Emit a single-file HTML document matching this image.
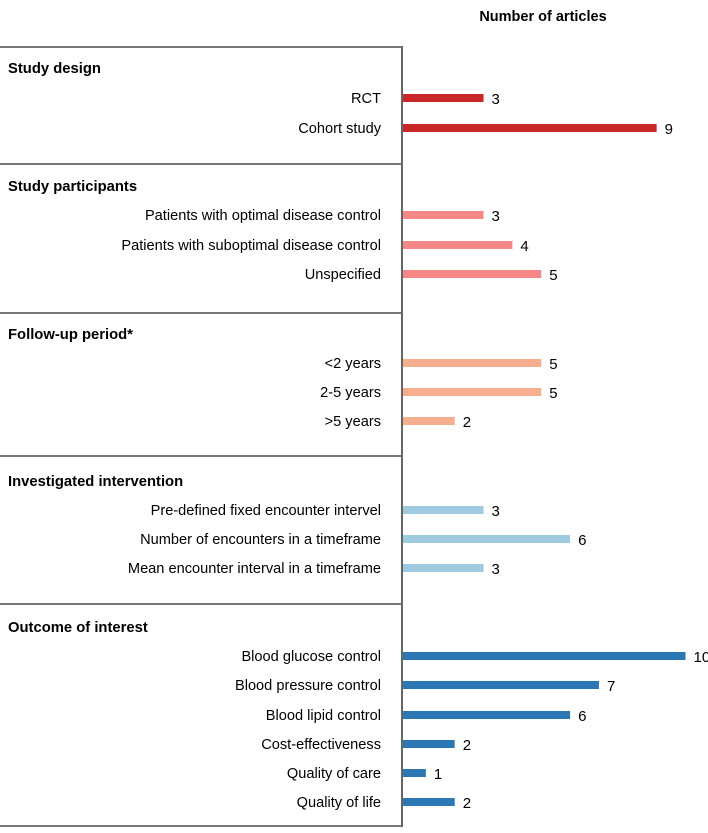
<!DOCTYPE html>
<html><head><meta charset="utf-8"><style>
body{margin:0;background:#fff;font-family:"Liberation Sans",Arial,sans-serif}
svg text{font-family:"Liberation Sans",Arial,sans-serif;fill:#000}
</style></head><body>
<svg width="708" height="828">
<g id="g"></g>
</svg>
<script>
const sections=["Study design","Study participants","Follow-up period*","Investigated intervention","Outcome of interest"];
const sectionY=[68,186,334,481,627];
const sepY=[47,164,313,456,604,826];
const categories=["RCT","Cohort study","Patients with optimal disease control","Patients with suboptimal disease control","Unspecified","<2 years","2-5 years",">5 years","Pre-defined fixed encounter intervel","Number of encounters in a timeframe","Mean encounter interval in a timeframe","Blood glucose control","Blood pressure control","Blood lipid control","Cost-effectiveness","Quality of care","Quality of life"];
const values=[3,9,3,4,5,5,5,2,3,6,3,10,7,6,2,1,2];
const groupOf=[0,0,1,1,1,2,2,2,3,3,3,4,4,4,4,4,4];
const rowY=[98,128,215,245,274,363,392,421,510,539,568,656,685,715,744,773,802];
const colors=["#c9272a","#f68787","#f5ae8e","#9fcbe0","#2b78b4"];
const NS="http://www.w3.org/2000/svg",g=document.getElementById('g');
const x=v=>397+28.85*v;
function el(t,a,txt){const e=document.createElementNS(NS,t);for(const k in a)e.setAttribute(k,a[k]);if(txt!==undefined)e.textContent=txt;g.appendChild(e);return e;}
let t=el('text',{x:543,y:21,'text-anchor':'middle','font-size':14.5,'font-weight':'bold'},'Number of articles');


sepY.forEach(y=>{const l=el('line',{x1:0,x2:403,y1:y,y2:y,stroke:'#777','stroke-width':2});

});
sections.forEach((s,i)=>{const e=el('text',{x:8,y:sectionY[i]+5,'font-size':14.8,'font-weight':'bold'},s);

});
categories.forEach((c,i)=>{const y=rowY[i];
const lb=el('text',{x:381,y:y+5,'text-anchor':'end','font-size':14.6},c);


const r=el('rect',{x:403,y:y-4,width:x(values[i])-403,height:8,fill:colors[groupOf[i]]});


const v=el('text',{x:x(values[i])+8,y:y+6,'font-size':15},values[i]);

});
const ax=el('line',{x1:402,x2:402,y1:46,y2:827,stroke:'#666','stroke-width':2});


</script>
</body></html>
